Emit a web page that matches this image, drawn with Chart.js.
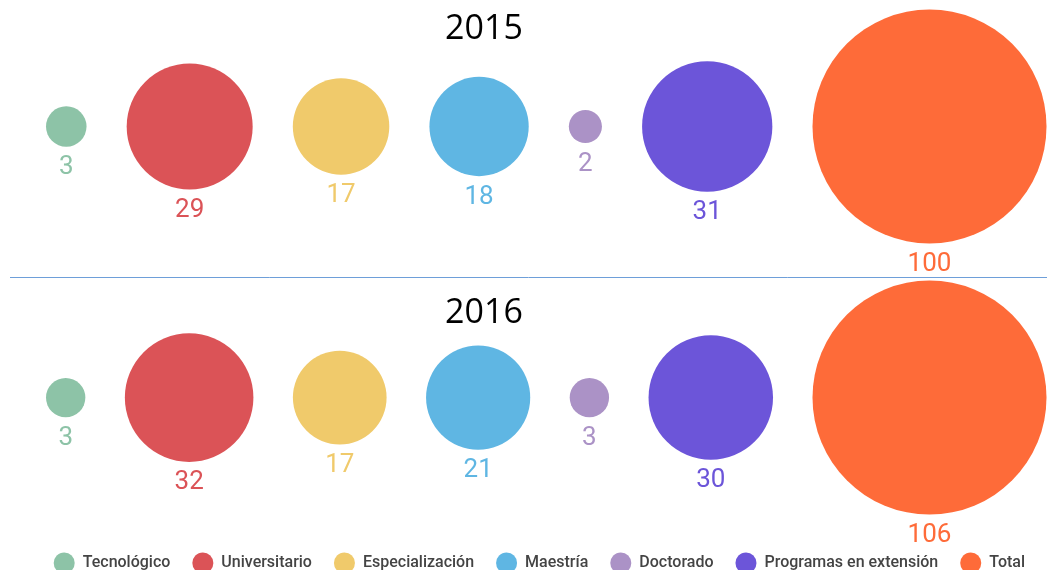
<!DOCTYPE html>
<html>
<head>
<meta charset="utf-8">
<script src="https://cdn.jsdelivr.net/npm/chart.js@4.4.1/dist/chart.umd.min.js"></script>
<style>
html,body{margin:0;padding:0;background:#ffffff;overflow:hidden}
#wrap{width:1047px;height:570px;position:relative}
</style>
</head>
<body>
<div id="wrap"><canvas id="c"></canvas></div>
<script>
// ---- data ----
const categories = ['Tecnológico', 'Universitario', 'Especialización', 'Maestría', 'Doctorado', 'Programas en extensión', 'Total'];
const years = ['2015', '2016'];
const values2015 = [3, 29, 17, 18, 2, 31, 100];
const values2016 = [3, 32, 17, 21, 3, 30, 106];
const colors = ['#8dc3a7', '#db5357', '#f0ca6b', '#5fb6e3', '#ab92c6', '#6c55d9', '#fe6b39'];

// ---- layout (not data) ----
const LAYOUT = {
  rowY: [126.5, 397.6],
  maxR: 117,
  leftEdge: 46,
  rightEdge: 1046.5,
  titleX: 484,
  titleBaseline: [38.5, 322.5],
  sepY: 277.5,
  sepX0: 10,
  legendShift: 11
};

// Bubble controller that does not pad the chart area by the largest radius
class FlatBubbleController extends Chart.BubbleController {
  getMaxOverflow() { return false; }
}
FlatBubbleController.id = 'flatBubble';
FlatBubbleController.defaults = Chart.BubbleController.defaults;
FlatBubbleController.overrides = Chart.BubbleController.overrides;
Chart.register(FlatBubbleController);

function rowPositions(vals) {
  const k = LAYOUT.maxR / Math.sqrt(Math.max(...vals));
  const r = vals.map(v => k * Math.sqrt(v));
  const sum = r.reduce((a, b) => a + b, 0);
  const gap = (LAYOUT.rightEdge - LAYOUT.leftEdge - 2 * sum) / (vals.length - 1);
  const xs = [];
  let x = LAYOUT.leftEdge;
  r.forEach(ri => { x += ri; xs.push(x); x += ri + gap; });
  return { r, xs };
}

const rows = [values2015, values2016].map(rowPositions);
const rowValues = [values2015, values2016];

const datasets = categories.map((cat, i) => ({
  label: cat,
  backgroundColor: colors[i],
  borderColor: colors[i],
  borderWidth: 0,
  hoverBorderWidth: 0,
  hoverRadius: 0,
  clip: false,
  data: rows.map((row, j) => ({ x: row.xs[i], y: LAYOUT.rowY[j], r: row.r[i], v: rowValues[j][i] }))
}));

const overlay = {
  id: 'overlay',
  afterLayout(chart) {
    if (chart.legend) {
      chart.legend.top += LAYOUT.legendShift;
      chart.legend.bottom += LAYOUT.legendShift;
    }
  },
  afterDatasetsDraw(chart) {
    const ctx = chart.ctx;
    ctx.save();
    // separator
    ctx.strokeStyle = '#6e9fd9';
    ctx.lineWidth = 1;
    ctx.beginPath();
    ctx.moveTo(LAYOUT.sepX0, LAYOUT.sepY);
    ctx.lineTo(chart.width, LAYOUT.sepY);
    ctx.stroke();
    // year titles
    ctx.fillStyle = '#000000';
    ctx.font = '34px "Open Sans", sans-serif';
    ctx.textAlign = 'center';
    ctx.textBaseline = 'alphabetic';
    years.forEach((y, j) => ctx.fillText(y, LAYOUT.titleX, LAYOUT.titleBaseline[j]));
    // value labels under each bubble
    ctx.font = '26px Roboto, sans-serif';
    chart.data.datasets.forEach((ds, i) => {
      const meta = chart.getDatasetMeta(i);
      meta.data.forEach((el, j) => {
        const r = el.options.radius;
        ctx.fillStyle = ds.backgroundColor;
        ctx.fillText(String(ds.data[j].v), el.x, el.y + r + 27.5);
      });
    });
    ctx.restore();
  }
};

new Chart(document.getElementById('c'), {
  type: 'flatBubble',
  data: { datasets },
  options: {
    responsive: true,
    maintainAspectRatio: false,
    devicePixelRatio: 1,
    animation: false,
    events: [],
    layout: { padding: 0 },
    scales: {
      x: {
        type: 'linear', display: false, bounds: 'data',
        afterDataLimits(s) { s.min = 0; s.max = s.width; }
      },
      y: {
        type: 'linear', display: false, bounds: 'data', reverse: true,
        afterDataLimits(s) { s.min = 0; s.max = s.height; }
      }
    },
    plugins: {
      tooltip: { enabled: false },
      legend: {
        position: 'bottom',
        align: 'end',
        labels: {
          usePointStyle: true,
          pointStyle: 'circle',
          boxHeight: 15,
          pointStyleWidth: 21,
          padding: 22,
          color: '#444444',
          font: { family: 'Roboto', size: 16, weight: '500' }
        }
      }
    }
  },
  plugins: [overlay]
});
</script>
</body>
</html>
